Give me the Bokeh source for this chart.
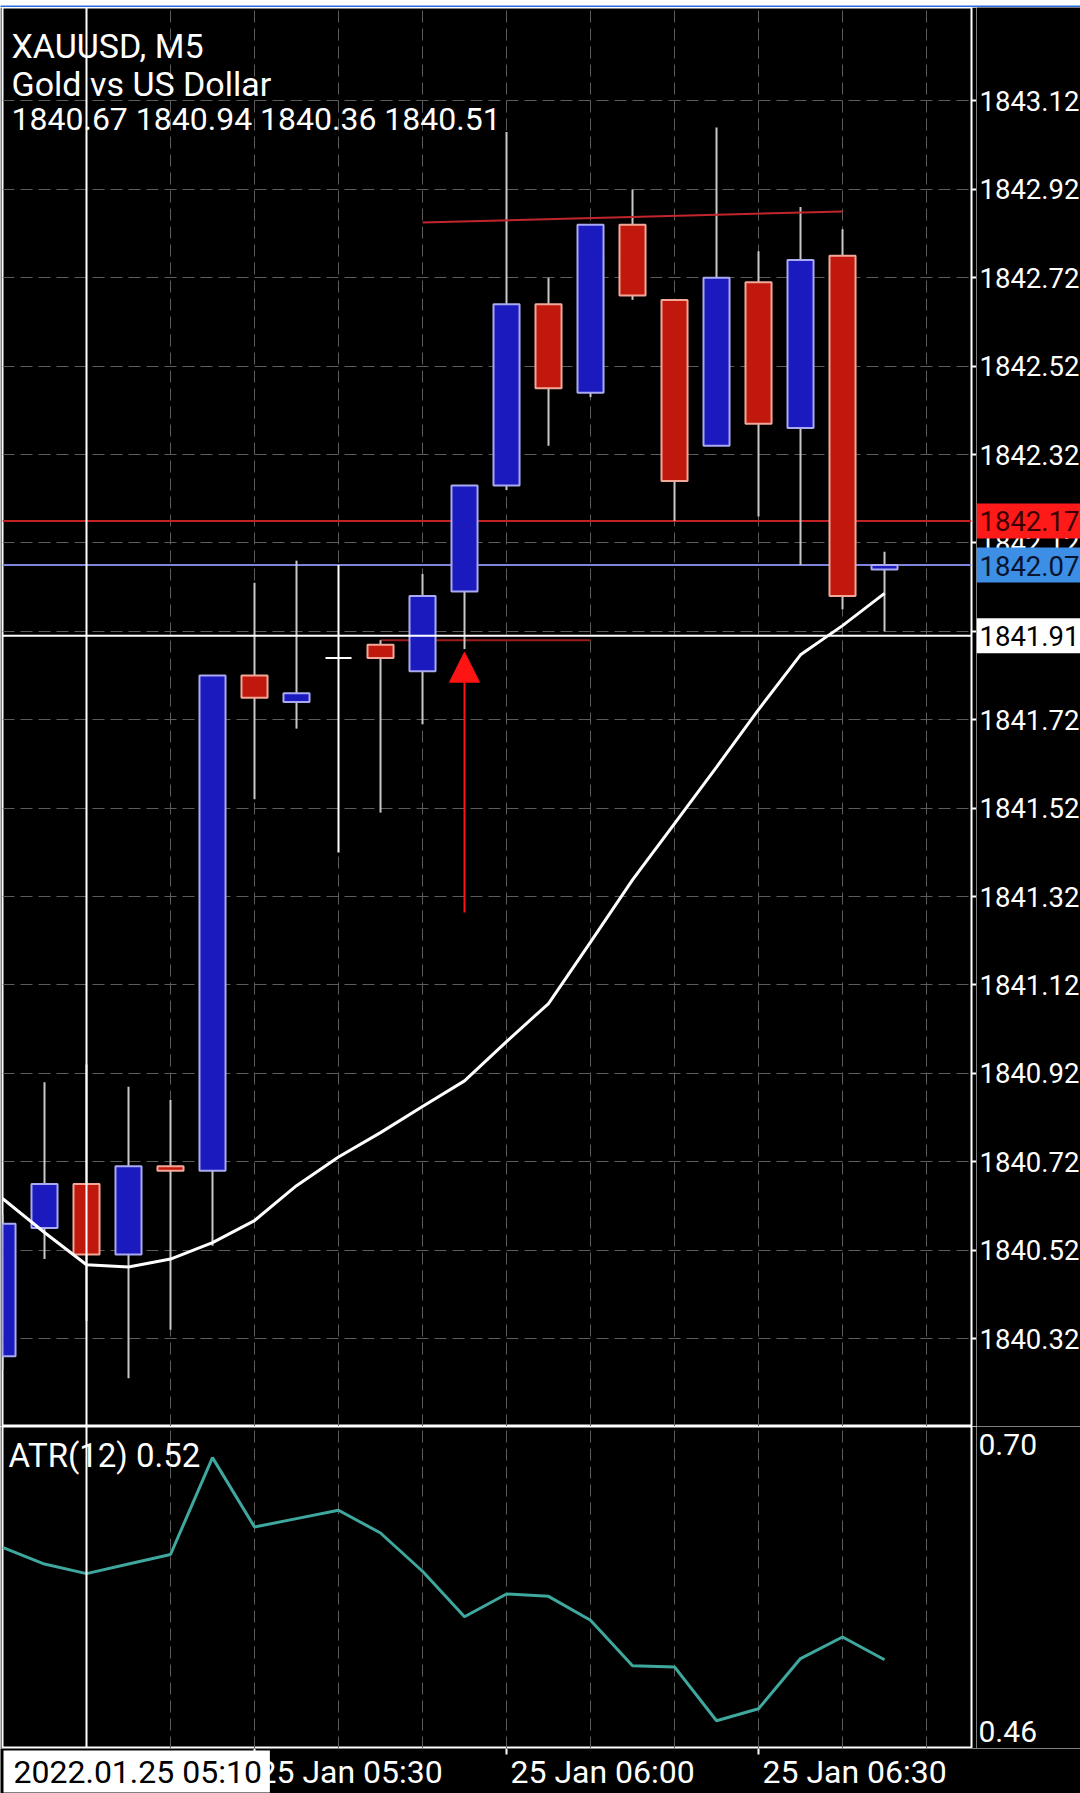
from bokeh.plotting import figure
from bokeh.models import (ColumnDataSource, Range1d, FixedTicker, LinearAxis, Grid, Span,
                          Label, Arrow, NormalHead)
from bokeh.core.properties import value
from bokeh.layouts import column, row
from bokeh.embed import file_html
from bokeh.resources import INLINE

# ---------------- data ----------------
symbol_title = "XAUUSD, M5"
symbol_desc = "Gold vs US Dollar"

times = ["05:00", "05:05", "05:10", "05:15", "05:20", "05:25", "05:30", "05:35", "05:40", "05:45", "05:50",
         "05:55", "06:00", "06:05", "06:10", "06:15", "06:20", "06:25", "06:30", "06:35", "06:40", "06:45"]
opens = [1840.28, 1840.57, 1840.67, 1840.51, 1840.71, 1840.70, 1841.82, 1841.76, 1841.86, 1841.89, 1841.83,
         1842.01, 1842.25, 1842.66, 1842.46, 1842.84, 1842.67, 1842.34, 1842.71, 1842.38, 1842.77, 1842.06]
highs = [1840.60, 1840.90, 1840.94, 1840.89, 1840.86, 1841.82, 1842.03, 1842.08, 1842.07, 1841.90, 1842.05,
         1842.25, 1843.05, 1842.72, 1842.84, 1842.92, 1842.67, 1843.06, 1842.78, 1842.88, 1842.83, 1842.10]
lows = [1840.25, 1840.50, 1840.36, 1840.23, 1840.34, 1840.53, 1841.54, 1841.70, 1841.42, 1841.51, 1841.71,
        1841.88, 1842.24, 1842.34, 1842.45, 1842.67, 1842.17, 1842.34, 1842.18, 1842.07, 1841.97, 1841.92]
closes = [1840.58, 1840.67, 1840.51, 1840.71, 1840.70, 1841.82, 1841.77, 1841.78, 1841.86, 1841.86, 1842.00,
          1842.25, 1842.66, 1842.47, 1842.84, 1842.68, 1842.26, 1842.72, 1842.39, 1842.76, 1842.00, 1842.07]
ma_values = [1840.637, 1840.560, 1840.487, 1840.482, 1840.500, 1840.537, 1840.587, 1840.666, 1840.731, 1840.786,
             1840.845, 1840.903, 1840.992, 1841.078, 1841.217, 1841.358, 1841.485, 1841.613, 1841.743, 1841.867,
             1841.933, 1842.006]
atr_title = "ATR(12)"
atr_values = [0.614, 0.600, 0.592, 0.600, 0.608, 0.689, 0.631, 0.638, 0.645, 0.626, 0.594, 0.556, 0.575, 0.573,
              0.553, 0.515, 0.514, 0.469, 0.479, 0.521, 0.539, 0.520]

price_ticks = [1840.32, 1840.52, 1840.72, 1840.92, 1841.12, 1841.32, 1841.52, 1841.72, 1841.92, 1842.12,
               1842.32, 1842.52, 1842.72, 1842.92, 1843.12]
atr_ticks = [0.46, 0.70]
axis_times = ["05:30", "06:00", "06:30"]
axis_labels = ["25 Jan 05:30", "25 Jan 06:00", "25 Jan 06:30"]
grid_times = ["05:00", "05:10", "05:20", "05:30", "05:40", "05:50", "06:00", "06:10", "06:20", "06:30",
              "06:40", "06:50"]

cross_time = "05:10"
cross_date_label = "2022.01.25 05:10"
cross_price = 1841.91
ask_price = 1842.17
bid_price = 1842.07

signal_times = ["05:55"]
signal_tip = [1841.873]
signal_tail = [1841.284]
trend_times = ["05:50", "06:40"]
trend_prices = [1842.845, 1842.870]
level_times = ["05:45", "06:10"]
level_prices = [1841.90, 1841.90]

# ---------------- helpers / styles ----------------
FONT = "Roboto"
BULL_FILL, BULL_LINE = "#1a1abf", "#a9aaf0"
BEAR_FILL, BEAR_LINE = "#c0180d", "#f2a898"
WICK = "#c8c8c8"
GRID = "#5c5c5c"
ATR_COLOR = "#3fa89e"


def bar(t):
    h, m = map(int, t.split(":"))
    h0, m0 = map(int, cross_time.split(":"))
    return ((h * 60 + m) - (h0 * 60 + m0)) / 5.0


def drop_grids(fig):
    fig.center = [r for r in fig.center if not isinstance(r, Grid)]


def bare(width, height, xr, yr, left=0, right=0, bottom=0, bg="black"):
    f = figure(width=width, height=height, x_range=xr, y_range=yr, output_backend="svg",
               toolbar_location=None, x_axis_location=None, y_axis_location=None,
               min_border_left=left, min_border_right=right, min_border_top=0, min_border_bottom=bottom,
               background_fill_color=bg, border_fill_color=bg, outline_line_color=None)
    drop_grids(f)
    return f


xs = [bar(t) for t in times]
fills, lines, wicks = [], [], []
for o, c in zip(opens, closes):
    if c > o:
        fills.append(BULL_FILL); lines.append(BULL_LINE); wicks.append(WICK)
    elif c < o:
        fills.append(BEAR_FILL); lines.append(BEAR_LINE); wicks.append(WICK)
    else:
        fills.append("white"); lines.append("white"); wicks.append("white")

candles = ColumnDataSource(dict(
    x=xs, high=highs, low=lows,
    top=[max(o, c) for o, c in zip(opens, closes)],
    bottom=[min(o, c) for o, c in zip(opens, closes)],
    fill=fills, line=lines, wick=wicks))

xr = Range1d(-2.0, 21.071)
yr_price = Range1d(1840.1211, 1843.3315)
yr_atr = Range1d(0.44578, 0.71505)

# ---------------- top strip ----------------
strip = bare(1080, 7, Range1d(0, 1), Range1d(0, 1), bg="#2a6edb")

# ---------------- main price panel ----------------
p = bare(976, 1419, xr, yr_price, left=2, right=5)
p.outline_line_color = "white"
p.outline_line_width = 2

yax = LinearAxis(ticker=FixedTicker(ticks=price_ticks), major_tick_out=5, major_tick_in=0,
                 major_tick_line_color="white", major_tick_line_width=2, minor_tick_line_color=None,
                 axis_line_color=None, major_label_text_color=None)
p.add_layout(yax, "right")
p.add_layout(Grid(dimension=1, ticker=FixedTicker(ticks=price_ticks), grid_line_color=GRID,
                  grid_line_dash="12 6", grid_line_width=1))
p.add_layout(Grid(dimension=0, ticker=FixedTicker(ticks=[bar(t) for t in grid_times]),
                  grid_line_color=GRID, grid_line_dash="12 6", grid_line_width=1))

p.add_layout(Span(location=ask_price, dimension="width", line_color="#c42222", line_width=2, level="underlay"))
p.add_layout(Span(location=bid_price, dimension="width", line_color="#7f84dc", line_width=2, level="underlay"))

p.segment(x0=[bar(level_times[0])], y0=[level_prices[0]], x1=[bar(level_times[1])], y1=[level_prices[1]],
          line_color="#9a1c1c", line_width=2)

p.segment(x0="x", y0="low", x1="x", y1="high", line_color="wick", line_width=2, source=candles)
p.vbar(x="x", width=0.62, top="top", bottom="bottom", fill_color="fill", line_color="line",
       line_width=2, source=candles)

p.segment(x0=[bar(trend_times[0])], y0=[trend_prices[0]], x1=[bar(trend_times[1])], y1=[trend_prices[1]],
          line_color="#c0262b", line_width=2)

p.line(xs, ma_values, line_color="white", line_width=3)

sig = ColumnDataSource(dict(x=[bar(t) for t in signal_times], tip=signal_tip, tail=signal_tail))
p.add_layout(Arrow(end=NormalHead(size=30, fill_color="#ff1414", line_color="#ff1414"),
                   x_start="x", y_start="tail", x_end="x", y_end="tip", source=sig,
                   line_color="#ff1414", line_width=2))

p.add_layout(Span(location=bar(cross_time), dimension="height", line_color="white", line_width=2))
p.add_layout(Span(location=cross_price, dimension="width", line_color="white", line_width=2))

k = times.index(cross_time)
header = [(symbol_title, 1381, "34px"), (symbol_desc, 1343, "34px"),
          (f"{opens[k]:.2f} {highs[k]:.2f} {lows[k]:.2f} {closes[k]:.2f}", 1308, "32px")]
for txt, yb, fs in header:
    p.add_layout(Label(x=9, y=yb, x_units="screen", y_units="screen", text=txt, text_color="white",
                       text_font=FONT, text_font_size=fs, text_baseline="alphabetic"))

# ---------------- price scale column ----------------
py = bare(104, 1419, Range1d(0, 104), yr_price)
ytick_src = ColumnDataSource(dict(y=price_ticks, text=[f"{t:.2f}" for t in price_ticks]))
py.text(x=3, y="y", text="text", source=ytick_src, text_color="white", text_font=value(FONT),
        text_font_size="27.5px", text_baseline="middle", text_align="left")
for price, bg, fg in [(ask_price, "#ff1a1a", "#3a0000"), (bid_price, "#3d8fe6", "#08142e"),
                      (cross_price, "white", "black")]:
    py.add_layout(Label(x=0, y=price, x_units="screen", y_units="data", text=f"{price:.2f}",
                        text_color=fg, text_font=FONT, text_font_size="27.5px", text_baseline="middle",
                        text_align="left", background_fill_color=bg,
                        padding=dict(left=3, right=20, top=8, bottom=7)))

# ---------------- ATR panel ----------------
pa = bare(976, 322, xr, yr_atr, left=2, right=5)
pa.outline_line_color = "white"
pa.outline_line_width = 2
pa.add_layout(Grid(dimension=0, ticker=FixedTicker(ticks=[bar(t) for t in grid_times]),
                   grid_line_color=GRID, grid_line_dash="12 6", grid_line_width=1))
pa.line(xs, atr_values, line_color=ATR_COLOR, line_width=3)
pa.add_layout(Span(location=bar(cross_time), dimension="height", line_color="white", line_width=2))
pa.add_layout(Label(x=6, y=293, x_units="screen", y_units="screen", text=f"{atr_title} {atr_values[-1]:.2f}",
                    text_color="white", text_font=FONT, text_font_size="33px", text_baseline="middle"))

pay = bare(104, 322, Range1d(0, 104), yr_atr)
atr_src = ColumnDataSource(dict(y=atr_ticks, text=[f"{t:.2f}" for t in atr_ticks]))
pay.text(x=2, y="y", text="text", source=atr_src, text_color="white", text_font=value(FONT),
         text_font_size="30px", text_baseline="middle", text_align="left")

# ---------------- time scale row ----------------
px = bare(1080, 45, Range1d(-86 / 42, 994 / 42), Range1d(0, 45))
xl_src = ColumnDataSource(dict(x=[bar(t) for t in axis_times], text=axis_labels))
px.segment(x0="x", y0=45, x1="x", y1=39, source=xl_src, line_color="white", line_width=2)
px.text(x="x", y=22, text="text", source=xl_src, x_offset=4, text_color="white", text_font=value(FONT),
        text_font_size="32px", text_baseline="middle", text_align="left")
px.add_layout(Label(x=3, y=22, x_units="screen", y_units="data", text=cross_date_label,
                    text_color="black", text_font=FONT, text_font_size="32px", text_baseline="middle",
                    text_align="left", background_fill_color="white",
                    padding=dict(left=10, right=8, top=2, bottom=2)))

layout = column(strip, row(p, py), row(pa, pay), px, spacing=0)
open("out.html", "w").write(file_html(layout, INLINE))
